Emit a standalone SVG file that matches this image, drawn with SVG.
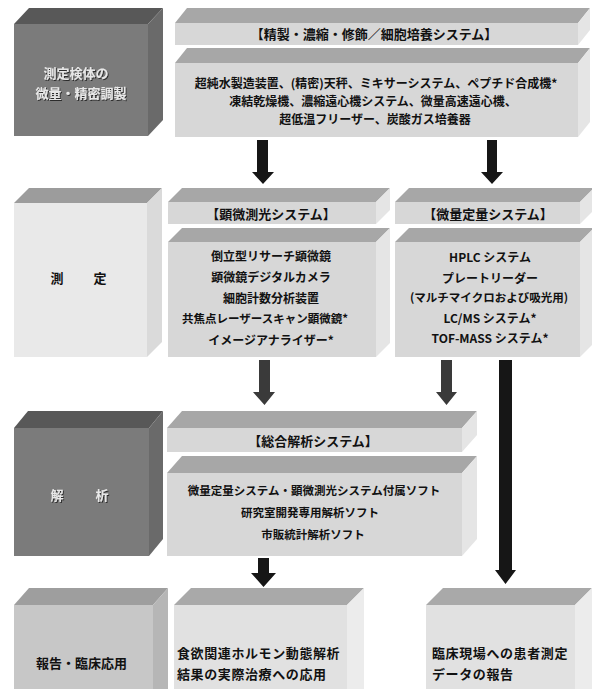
<svg xmlns="http://www.w3.org/2000/svg" width="592" height="689" viewBox="0 0 592 689">
<defs>
<style>
text{font-family:"Noto Sans CJK JP","Noto Sans",sans-serif;font-weight:700;fill:#111;dominant-baseline:central}
.c{text-anchor:middle}
.l{text-anchor:start}
.hd{font-size:13px}
.b12{font-size:12px}
.b11{font-size:11.5px}
.lab{font-size:13px}
.inv{fill:#e8e8e8;filter:url(#sh)}
.dk-f{fill:#7b7b7b}.dk-t{fill:#585858}.dk-s{fill:#6a6a6a}
.lt-f{fill:#e9e9e9}.lt-t{fill:#9c9c9c}.lt-s{fill:#dadada}
.sy-f{fill:#d7d7d7}.sy-t{fill:#a7a7a7}.sy-s{fill:#e5e5e5}
.md-f{fill:#c7c7c7}.md-t{fill:#9e9e9e}.md-s{fill:#b6b6b6}
.rp-f{fill:#e1e1e1}.rp-t{fill:#a9a9a9}.rp-s{fill:#ececec}
.ar{fill:#161616}
.ar2{fill:#3a3a3a}
</style>
<filter id="sh" x="-10%" y="-30%" width="130%" height="170%">
<feDropShadow dx="1" dy="1" stdDeviation="0.4" flood-color="#222" flood-opacity="0.9"/>
</filter>
</defs>
<rect width="592" height="689" fill="#ffffff"/>

<g id="prep-label">
<rect class="dk-f" x="14" y="24" width="134" height="112"/>
<polygon class="dk-t" points="14,24 148,24 163,8 29,8"/>
<polygon class="dk-s" points="148,24 163,8 163,120 148,136"/>
<text class="c lab inv" x="76" y="72">測定検体の</text>
<text class="c lab inv" x="81" y="92">微量・精密調製</text>
</g>

<g id="prep-system">
<rect class="sy-f" x="175" y="23" width="403" height="22"/>
<polygon class="sy-t" points="175,23 578,23 590,8 187,8"/>
<polygon class="sy-s" points="578,23 590,8 590,30 578,45"/>
<text class="c hd" x="374" y="33">【精製・濃縮・修飾／細胞培養システム】</text>
<rect class="sy-f" x="175" y="63" width="403" height="74"/>
<polygon class="sy-t" points="175,63 578,63 590,48 187,48"/>
<polygon class="sy-s" points="578,63 590,48 590,122 578,137"/>
<text class="c b12" x="376" y="82">超純水製造装置、(精密)天秤、ミキサーシステム、ペプチド合成機*</text>
<text class="c b12" x="373" y="100">凍結乾燥機、濃縮遠心機システム、微量高速遠心機、</text>
<text class="c b12" x="375" y="118">超低温フリーザー、炭酸ガス培養器</text>
</g>

<g id="measure-label">
<rect class="lt-f" x="14" y="203" width="133" height="154"/>
<polygon class="lt-t" points="14,203 147,203 162,188 29,188"/>
<polygon class="lt-s" points="147,203 162,188 162,342 147,357"/>
<text class="c lab" x="57" y="277">測</text>
<text class="c lab" x="100" y="277">定</text>
</g>

<g id="microscopy-system">
<rect class="sy-f" x="168" y="202" width="208" height="22"/>
<polygon class="sy-t" points="168,202 376,202 390,188 182,188"/>
<polygon class="sy-s" points="376,202 390,188 390,210 376,224"/>
<text class="c hd" x="271" y="213">【顕微測光システム】</text>
<rect class="sy-f" x="168" y="242" width="208" height="115"/>
<polygon class="sy-t" points="168,242 376,242 390,228 182,228"/>
<polygon class="sy-s" points="376,242 390,228 390,343 376,357"/>
<text class="c b12" x="271" y="255">倒立型リサーチ顕微鏡</text>
<text class="c b12" x="271" y="276">顕微鏡デジタルカメラ</text>
<text class="c b12" x="271" y="297">細胞計数分析装置</text>
<text class="c b11" x="265" y="318">共焦点レーザースキャン顕微鏡*</text>
<text class="c b12" x="271" y="339">イメージアナライザー*</text>
</g>

<g id="quant-system">
<rect class="sy-f" x="395" y="202" width="185" height="22"/>
<polygon class="sy-t" points="395,202 580,202 594,188 409,188"/>
<polygon class="sy-s" points="580,202 594,188 594,210 580,224"/>
<text class="c hd" x="488" y="213">【微量定量システム】</text>
<rect class="sy-f" x="395" y="242" width="185" height="115"/>
<polygon class="sy-t" points="395,242 580,242 594,228 409,228"/>
<polygon class="sy-s" points="580,242 594,228 594,343 580,357"/>
<text class="c b12" x="490" y="256">HPLC システム</text>
<text class="c b12" x="490" y="277">プレートリーダー</text>
<text class="c b11" x="489" y="297">(マルチマイクロおよび吸光用)</text>
<text class="c b12" x="490" y="317">LC/MS システム*</text>
<text class="c b12" x="490" y="337">TOF-MASS システム*</text>
</g>

<g id="analysis-label">
<rect class="dk-f" x="14" y="428" width="135" height="128"/>
<polygon class="dk-t" points="14,428 149,428 163,411 28,411"/>
<polygon class="dk-s" points="149,428 163,411 163,539 149,556"/>
<text class="c lab inv" x="57" y="494">解</text>
<text class="c lab inv" x="102" y="494">析</text>
</g>

<g id="analysis-system">
<rect class="sy-f" x="167" y="428" width="295" height="24"/>
<polygon class="sy-t" points="167,428 462,428 477,411 182,411"/>
<polygon class="sy-s" points="462,428 477,411 477,435 462,452"/>
<text class="c hd" x="313" y="440">【総合解析システム】</text>
<rect class="sy-f" x="167" y="473" width="295" height="83"/>
<polygon class="sy-t" points="167,473 462,473 477,456 182,456"/>
<polygon class="sy-s" points="462,473 477,456 477,539 462,556"/>
<text class="c b11" x="314" y="490">微量定量システム・顕微測光システム付属ソフト</text>
<text class="c b11" x="310" y="512">研究室開発専用解析ソフト</text>
<text class="c b11" x="313" y="534">市販統計解析ソフト</text>
</g>

<g id="report-label">
<rect class="md-f" x="14" y="605" width="139" height="95"/>
<polygon class="md-t" points="14,605 153,605 168,588 29,588"/>
<polygon class="md-s" points="153,605 168,588 168,700 153,700"/>
<text class="l lab" x="36" y="662">報告・臨床応用</text>
</g>

<g id="report-treatment">
<rect class="rp-f" x="174" y="605" width="173" height="95"/>
<polygon class="rp-t" points="174,605 347,605 364,588 191,588"/>
<polygon class="rp-s" points="347,605 364,588 364,700 347,700"/>
<text class="l lab" x="177" y="652" letter-spacing="0.6">食欲関連ホルモン動態解析</text>
<text class="l lab" x="177" y="673" letter-spacing="0.6">結果の実際治療への応用</text>
</g>

<g id="report-clinic">
<rect class="rp-f" x="426" y="605" width="149" height="95"/>
<polygon class="rp-t" points="426,605 575,605 592,588 443,588"/>
<polygon class="rp-s" points="575,605 592,588 592,700 575,700"/>
<text class="l lab" x="432" y="652" letter-spacing="0.6">臨床現場への患者測定</text>
<text class="l lab" x="432" y="673" letter-spacing="0.6">データの報告</text>
</g>

<g id="connectors">
<polygon class="ar" points="257,140 268,140 268,172 274,172 263,184 252,172 257,172"/>
<polygon class="ar" points="487,140 497,140 497,172 503,172 492,184 481,172 487,172"/>
<polygon class="ar2" points="259,360 270,360 270,392 275,392 264.5,405 253,392 259,392"/>
<polygon class="ar2" points="441,360 452,360 452,392 457,392 446.5,405 436,392 441,392"/>
<polygon class="ar" points="499,360 512,360 512,570 516,570 505.5,584 495,570 499,570"/>
<polygon class="ar" points="258,558 269,558 269,573 276,573 263.5,587 251,573 258,573"/>
</g>
</svg>
